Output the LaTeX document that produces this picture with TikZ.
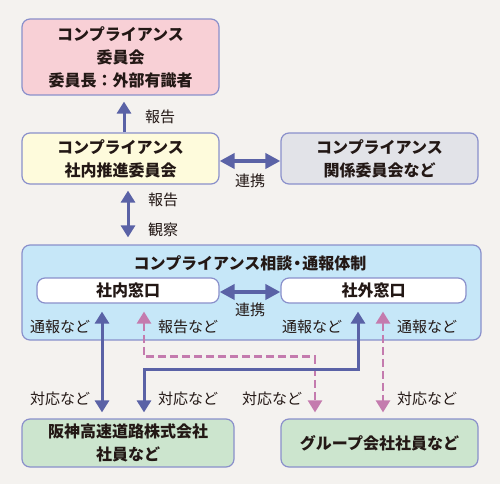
\documentclass[tikz,border=0pt]{standalone}
\usepackage{fontspec}
\setmainfont{Noto Sans CJK JP}
\usepackage{xcolor}
\usetikzlibrary{arrows.meta, positioning, calc}

\definecolor{bgcol}{HTML}{F4F2EF}
\definecolor{edgecol}{HTML}{8A90CB}
\definecolor{arrblue}{HTML}{5A62A6}
\definecolor{arrpink}{HTML}{C47BAE}
\definecolor{txtcol}{HTML}{231815}
\definecolor{pinkfill}{HTML}{F8D0D6}
\definecolor{yellowfill}{HTML}{FEFBDC}
\definecolor{greyfill}{HTML}{E2E3E8}
\definecolor{bluefill}{HTML}{C6E7F8}
\definecolor{greenfill}{HTML}{CCE5CE}

\begin{document}
\begin{tikzpicture}[x=1pt,y=-1pt,
		box/.style={draw=edgecol, line width=1.2pt, rounded corners=8pt, inner sep=0pt,
			align=center, text=txtcol, font=\fontsize{16}{23}\selectfont\bfseries},
		lbl/.style={text=txtcol, font=\fontsize{15}{18}\selectfont},
		bluearr/.style={draw=arrblue, line width=3pt, {Triangle[width=14pt,length=12pt]}-{Triangle[width=14pt,length=12pt]}},
		pinkarr/.style={draw=arrpink, line width=2.6pt, dash pattern=on 8pt off 4pt,
			{Triangle[width=14pt,length=12pt]}-{Triangle[width=14pt,length=12pt]}}]

		\fill[bgcol] (0,0) rectangle (500,484);
		\useasboundingbox (0,0) rectangle (500,484);

		% Committees
		\node[box, fill=pinkfill, minimum width=197pt, minimum height=76pt] (comm) at (120.5,57)
			{コンプライアンス\\委員会\\委員長：外部有識者};
		\node[box, fill=yellowfill, minimum width=197pt, minimum height=51pt] (promo) at (120.5,158.5)
			{コンプライアンス\\社内推進委員会};
		\node[box, fill=greyfill, minimum width=197pt, minimum height=51pt] (rel) at (379.5,158.5)
			{コンプライアンス\\関係委員会など};

		% Consultation system
		\node[box, fill=bluefill, minimum width=459pt, minimum height=95pt] (sys) at (251.5,292.5) {};
		\node[text=txtcol, font=\fontsize{16}{18}\selectfont\bfseries] (systitle) at (250,263)
			{コンプライアンス相談\kern-3pt・\kern-3pt通報体制};
		\node[box, fill=white, minimum width=182pt, minimum height=25pt] (inner) at (128,290.5) {社内窓口};
		\node[box, fill=white, minimum width=185pt, minimum height=25pt] (outer) at (373.5,290.5) {社外窓口};

		% Employees
		\node[box, fill=greenfill, minimum width=212pt, minimum height=48pt] (hanshin) at (128,443)
			{阪神高速道路株式会社\\社員など};
		\node[box, fill=greenfill, minimum width=197pt, minimum height=48pt] (group) at (379.5,443)
			{グループ会社社員など};

		% Arrows
		\draw[draw=arrblue, line width=3pt, -{Triangle[width=14pt,length=12pt]}, shorten >=6pt]
			([xshift=3.5pt]promo.north) -- ([xshift=3.5pt]comm.south);
		\draw[draw=arrblue, line width=4pt, {Triangle[width=15pt,length=15pt]}-{Triangle[width=15pt,length=15pt]}]
			([yshift=-2.5pt]promo.east) -- ([yshift=-2.5pt]rel.west);
		\draw[bluearr, shorten <=6pt, shorten >=7pt]
			([xshift=7.5pt]promo.south) -- ([xshift=7.5pt]promo.south |- sys.north);
		\draw[draw=arrblue, line width=4pt, {Triangle[width=15pt,length=15pt]}-{Triangle[width=15pt,length=15pt]}]
			([yshift=-1.5pt]inner.east) -- ([yshift=-1.5pt]outer.west);
		\draw[bluearr, shorten <=8pt, shorten >=6pt]
			([xshift=-26pt]inner.south) -- ([xshift=-26pt]inner.south |- hanshin.north);
		\draw[pinkarr, shorten <=8pt, shorten >=6pt]
			([xshift=16pt]inner.south) -- ++(0,53) -| ([xshift=-64.5pt]group.north);
		\draw[bluearr, shorten <=8pt, shorten >=6pt]
			([xshift=-15.5pt]outer.south) -- ++(0,66) -| ([xshift=16pt]hanshin.north);
		\draw[pinkarr, shorten <=8pt, shorten >=6pt]
			([xshift=9.5pt]outer.south) -- ([xshift=9.5pt]outer.south |- group.north);

		% Labels
		\node[lbl] (l1) at (160,117) {報告};
		\node[lbl] (l2) at (250,181) {連携};
		\node[lbl] (l3) at (163,200) {報告};
		\node[lbl] (l4) at (163,230) {観察};
		\node[lbl] (l5) at (250,310) {連携};
		\node[lbl] (l6) at (60,327) {通報など};
		\node[lbl] (l7) at (188,327) {報告など};
		\node[lbl] (l8) at (312,327) {通報など};
		\node[lbl] (l9) at (427,327) {通報など};
		\node[lbl] (l10) at (60,399) {対応など};
		\node[lbl] (l11) at (188,399) {対応など};
		\node[lbl] (l12) at (272,399) {対応など};
		\node[lbl] (l13) at (427,399) {対応など};
	\end{tikzpicture}
\end{document}
